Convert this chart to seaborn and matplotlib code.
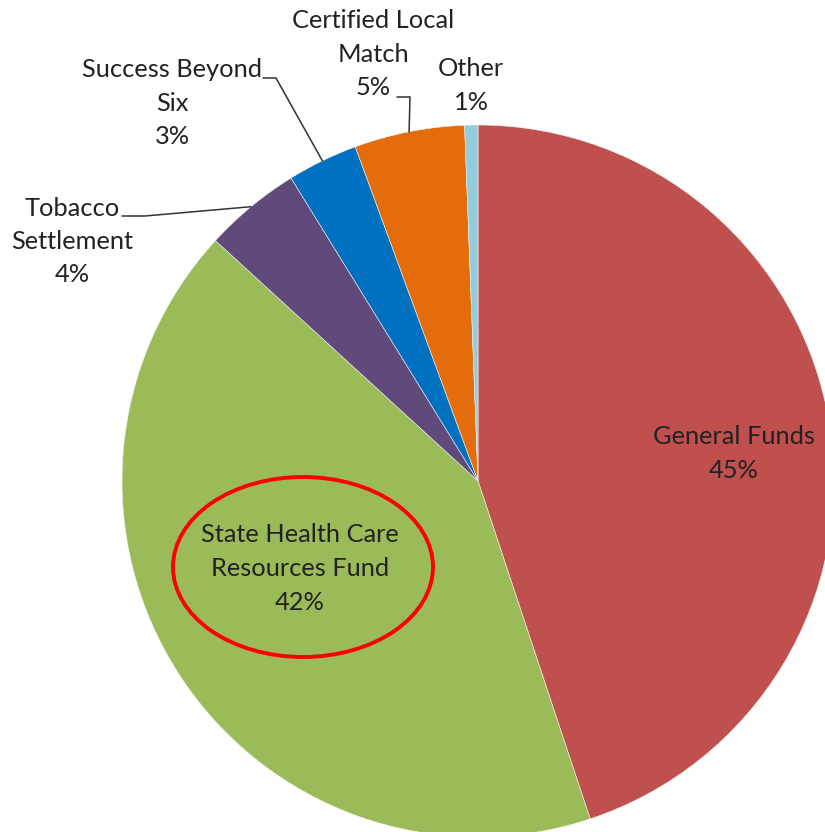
import numpy as np
import matplotlib
matplotlib.use("Agg")
import matplotlib.pyplot as plt
import seaborn as sns
from matplotlib.patches import Ellipse

# funding shares (percent)
sources = ["General Funds", "State Health Care\nResources Fund", "Tobacco\nSettlement",
           "Success Beyond\nSix", "Certified Local\nMatch", "Other"]
shares = [44.9, 41.9, 4.4, 3.2, 5.0, 0.6]
colors = ["#C0504D", "#9BBB59", "#604A7B", "#0070C0", "#E46C0A", "#93CDDD"]

sns.set_style("white")
plt.rcParams['font.family'] = ['Lato', 'DejaVu Sans']

W, H = 825, 832
CX, CY, R = 478, 481, 356  # pie centre / radius in pixels
STEP = 33.5                # line step of the labels, pixels


def px(x, y):
    # pixel position -> data coords (pie radius = 1)
    return (x - CX) / R, (CY - y) / R


fig = plt.figure(figsize=(W / 100, H / 100), dpi=100)
ax = fig.add_axes([0, 0, 1, 1])
wedges, _ = ax.pie(shares, colors=colors, startangle=90, counterclock=False,
                   wedgeprops=dict(edgecolor="#f2f2f2", linewidth=0.4))
ax.set_aspect("auto")
ax.set_xlim(-CX / R, (W - CX) / R)
ax.set_ylim(-(H - CY) / R, CY / R)
ax.axis("off")


def label(i, x, y0):
    # draw one line at a time so the spacing matches the original
    lines = sources[i].split("\n") + [f"{round(shares[i]):.0f}%"]
    for k, s in enumerate(lines):
        ax.text(*px(x, y0 + k * STEP), s, ha="center", va="center",
                fontsize=18.3, color="#222222")


# labels inside the two big slices
label(0, 734, 437)
label(1, 300, 535)

# outside labels with leader lines: (x, first line y, line start, elbow)
outside = {
    2: (72, 208, (122, 216), (145, 216)),
    3: (172, 70, (263, 78), (276, 78)),
    4: (373, 21, (397, 97), (410, 97)),
}
for i, (x, y0, start, elbow) in outside.items():
    label(i, x, y0)
    w = wedges[i]
    mid = np.deg2rad((w.theta1 + w.theta2) / 2)
    ex, ey = np.cos(mid), np.sin(mid)
    sx, sy = px(*start)
    bx, by = px(*elbow)
    ax.plot([sx, bx, ex], [sy, by, ey], color="#333333", lw=1.1, solid_joinstyle="miter")

label(5, 471, 69)

# red highlight ring
ex, ey = px(303, 567)
ax.add_patch(Ellipse((ex, ey), 260 / R, 180 / R, fill=False, ec="#FF0000", lw=2.8))

fig.savefig("out.png", dpi=100)
